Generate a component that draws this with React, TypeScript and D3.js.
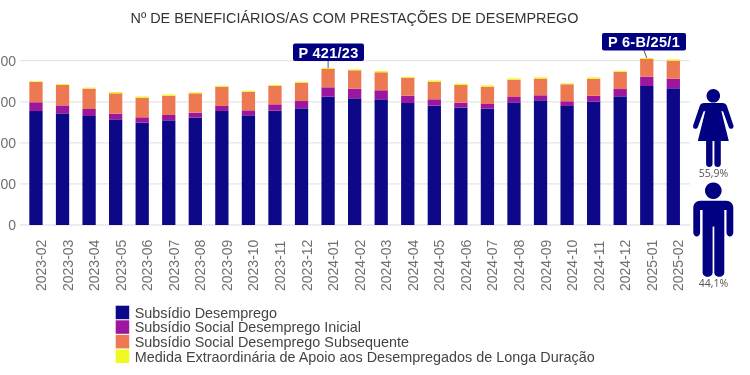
import React from "react";
import * as d3 from "d3";

const months = ["2023-02","2023-03","2023-04","2023-05","2023-06","2023-07","2023-08","2023-09","2023-10","2023-11","2023-12","2024-01","2024-02","2024-03","2024-04","2024-05","2024-06","2024-07","2024-08","2024-09","2024-10","2024-11","2024-12","2025-01","2025-02"];
const subsidio = [138800,135900,132700,128600,124600,127400,130700,138800,133500,139200,142000,156200,154200,153000,148500,145300,142800,141600,149300,151800,144900,150100,156600,169200,166400];
const socialInicial = [10600,9700,8500,6900,6500,6500,6100,6100,6100,7700,8900,11400,11800,11000,8900,7700,6100,5700,6500,6100,5700,7300,8900,11400,11800];
const socialSubsequente = [24800,24800,24800,24800,23900,23500,23500,23500,22700,22300,22300,22300,22300,21900,21900,21500,21500,21100,21100,20300,20700,20700,21100,21500,21900];
const medida = [800,1200,1200,1600,1600,1600,1200,1200,1200,1200,1200,1200,1200,1600,1200,1600,1600,1600,1600,1600,1200,1600,1200,1200,1600];
const yTicks = [0,50000,100000,150000,200000];
const seriesNames = ["Subsídio Desemprego","Subsídio Social Desemprego Inicial","Subsídio Social Desemprego Subsequente","Medida Extraordinária de Apoio aos Desempregados de Longa Duração"];
const seriesColors = ["#0d0887","#9c179e","#ed7953","#f0f921"];
const notes = [{ month: "2024-01", label: "P 421/23" }, { month: "2025-01", label: "P 6-B/25/1" }];
const FONT = "'Liberation Sans', Arial, sans-serif";
const NAVY = "#000080";

const rows = months.map((m, i) => ({ m, a: subsidio[i], b: socialInicial[i], c: socialSubsequente[i], d: medida[i] }));
const stack = d3.stack<any>().keys(["a","b","c","d"])(rows);
const x = d3.scaleBand<string>().domain(months).range([22.7, 686.6]).paddingInner(0.5).paddingOuter(0.25);
const y = d3.scaleLinear().domain([0, 200000]).range([225, 60.7]);

const woman = "M20 0a6.8 6.8 0 1 1-.01 0ZM11 14H29c2.500 0 3.800 1.200 4.600 3L40 36c.7 1.800 0 3.200-1.400 3.700-1.400.5-2.600-.2-3.200-1.700L29.800 22.500 28 22 35.500 52H27.500V75c0 1.700-1.400 3-3.200 3s-3.200-1.300-3.200-3V52H19.200V75c0 1.700-1.400 3-3.200 3s-3.200-1.300-3.200-3V52H4.500L12 22 10.200 22.500 4.600 38c-.6 1.500-1.800 2.200-3.200 1.700-1.400-.5-2.100-1.900-1.400-3.700L6.400 17c.8-1.800 2.100-3 4.600-3Z";
const man = "M20 0a8.300 8.300 0 1 1-.01 0ZM7 18.300H33c4 0 7 3 7 7V50c0 2.300-1.500 4-3.400 4s-3.400-1.700-3.400-4V27.500H31V90c0 2.400-2.100 4.300-5 4.300s-5-1.900-5-4.300V44H19.300V90c0 2.400-2.100 4.300-5 4.300s-5-1.900-5-4.300V27.500H6.800V50c0 2.300-1.500 4-3.400 4S0 52.300 0 50V25.300C0 21.300 3 18.300 7 18.300Z";

export default function App() {
  return (
    <svg width={750} height={375} style={{ position: "absolute", left: 0, top: 0, background: "#fff", filter: "blur(0.5px)" }} fontFamily={FONT}>
      <text x={354.500} y={23} textAnchor="middle" fontSize={14.400} fill="#333">Nº DE BENEFICIÁRIOS/AS COM PRESTAÇÕES DE DESEMPREGO</text>
      {yTicks.map((t) => (
        <g key={t}>
          <line x1={20} x2={690} y1={y(t)} y2={y(t)} stroke="#e6e6e6" strokeWidth={1.3} />
          <text x={16} y={y(t)} dy="0.36em" textAnchor="end" fontSize={14} fill="#707070">{t}</text>
        </g>
      ))}
      {stack.map((s, i) => (
        <g key={i} fill={seriesColors[i]}>
          {s.map((d, j) => (
            <rect key={j} x={x(months[j])} width={x.bandwidth()} y={y(d[1])} height={y(d[0]) - y(d[1])} />
          ))}
        </g>
      ))}
      {months.map((m) => {
        const cx = x(m)! + x.bandwidth() / 2;
        return (
          <text key={m} transform={`translate(${cx + 10},291) rotate(-90)`} fontSize={14} fill="#707070">{m}</text>
        );
      })}
      {notes.map((n, k) => {
        const i = months.indexOf(n.month);
        const cx = x(n.month)! + x.bandwidth() / 2;
        const top = y(subsidio[i] + socialInicial[i] + socialSubsequente[i] + medida[i]);
        const w = k === 0 ? 71 : 84;
        const bx = k === 0 ? 293 : 602;
        const by = k === 0 ? 43.500 : 33;
        return (
          <g key={n.month}>
            <line x1={k === 0 ? cx : cx - 3} y1={by + 17} x2={cx} y2={top} stroke="#555" strokeWidth={1} />
            <rect x={bx} y={by} width={w} height={17.500} rx={2} fill={NAVY} />
            <text x={bx + w / 2} y={by + 14} textAnchor="middle" fontSize={14.500} fontWeight={700} fill="#fff" letterSpacing={0.3}>{n.label}</text>
          </g>
        );
      })}
      <path d={woman} transform="translate(693.300,89)" fill={NAVY} />
      <text x={713.500} y={176.500} textAnchor="middle" fontSize={10.500} fill="#555" fontFamily="'Open Sans', sans-serif">55,9%</text>
      <path d={man} transform="translate(693.300,182.400)" fill={NAVY} />
      <text x={713.500} y={286.500} textAnchor="middle" fontSize={10.500} fill="#555" fontFamily="'Open Sans', sans-serif">44,1%</text>
      {seriesNames.map((n, i) => (
        <g key={n} transform={`translate(115.700,${305.700 + i * 14.600})`}>
          <rect width={13.500} height={13.500} fill={seriesColors[i]} />
          <text x={19} y={12} fontSize={14.400} fill="#444">{n}</text>
        </g>
      ))}
    </svg>
  );
}
